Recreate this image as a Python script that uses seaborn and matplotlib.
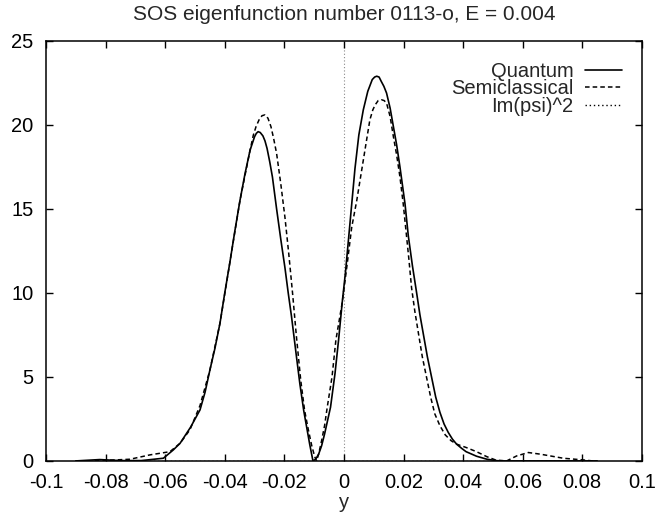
import matplotlib
matplotlib.use("Agg")
import matplotlib.pyplot as plt
import seaborn as sns
import pandas as pd
import numpy as np

# ---- data ----
title = "SOS eigenfunction number 0113-o, E = 0.004"
x_label = "y"
labels = ["Quantum", "Semiclassical", "Im(psi)^2"]

quantum_x = [-0.090, -0.082, -0.075, -0.068, -0.0606, -0.0573, -0.0550, -0.0515,
             -0.0483, -0.0466, -0.0450, -0.0433, -0.0416, -0.0400, -0.0383, -0.0366,
             -0.0349, -0.0332, -0.0315, -0.0300, -0.0294, -0.0288, -0.0281, -0.0272,
             -0.0265, -0.0258, -0.0249, -0.0240, -0.0226, -0.0212, -0.0198, -0.0187,
             -0.0176, -0.0160, -0.0148, -0.0135, -0.0125, -0.0115, -0.0104, -0.0095,
             -0.0085, -0.0075, -0.0065, -0.0055, -0.0045, -0.0030, -0.0018, -0.0006,
             0.0005, 0.0020, 0.0037, 0.0050, 0.0065, 0.0080, 0.0095, 0.0103,
             0.0110, 0.0118, 0.0125, 0.0134, 0.0143, 0.0155, 0.0166, 0.0177,
             0.0188, 0.0205, 0.0216, 0.0230, 0.0244, 0.0255, 0.0266, 0.0280,
             0.0294, 0.0308, 0.0322, 0.0336, 0.0350, 0.0364, 0.0378, 0.0395,
             0.0410, 0.0445, 0.0480, 0.0520, 0.0600, 0.0700, 0.0850]
quantum_v = [0.0, 0.08, 0.02, 0.02, 0.16, 0.65, 1.05, 2.0,
             3.04, 4.1, 5.4, 6.7, 8.2, 10.0, 11.8, 13.7,
             15.5, 17.1, 18.5, 19.3, 19.5, 19.6, 19.55, 19.35,
             19.05, 18.6, 17.8, 16.9, 15.0, 13.2, 11.5, 10.0,
             8.6, 6.3, 4.6, 3.0, 2.0, 1.0, 0.0, 0.1,
             0.4, 0.9, 1.6, 2.4, 3.2, 5.2, 7.2, 9.4,
             11.2, 14.1, 17.4, 19.4, 20.9, 22.0, 22.7, 22.85,
             22.9, 22.85, 22.6, 22.3, 21.9, 21.0, 19.9, 18.8,
             17.5, 15.3, 13.4, 11.6, 10.0, 8.7, 7.6, 6.2,
             5.0, 3.8, 2.9, 2.2, 1.7, 1.3, 1.0, 0.75,
             0.55, 0.28, 0.1, 0.0, 0.0, 0.0, 0.0]

semi_x = [-0.0836, -0.0780, -0.0718, -0.0651, -0.0584, -0.0550, -0.0517, -0.0483,
          -0.0450, -0.0416, -0.0383, -0.0349, -0.0315, -0.0304, -0.0295, -0.0285,
          -0.0275, -0.0265, -0.0255, -0.0245, -0.0236, -0.0226, -0.0212, -0.0198,
          -0.0185, -0.0172, -0.0160, -0.0145, -0.0132, -0.0120, -0.0108, -0.0098,
          -0.0092, -0.0085, -0.0075, -0.0065, -0.0056, -0.0040, -0.0027, -0.0006,
          0.0010, 0.0026, 0.0043, 0.0065, 0.0087, 0.0097, 0.0105, 0.0115,
          0.0126, 0.0135, 0.0143, 0.0155, 0.0166, 0.0177, 0.0188, 0.0199,
          0.0210, 0.0218, 0.0227, 0.0238, 0.0250, 0.0263, 0.0277, 0.0291,
          0.0305, 0.0322, 0.0340, 0.0360, 0.0378, 0.0410, 0.0445, 0.0480,
          0.0510, 0.0546, 0.0580, 0.0619, 0.0660, 0.0736, 0.0803, 0.0835]
semi_v = [0.0, 0.05, 0.1, 0.36, 0.55, 1.05, 1.85, 3.3,
          5.4, 8.2, 11.8, 15.5, 18.5, 19.4, 19.9, 20.3,
          20.55, 20.6, 20.4, 19.9, 19.2, 18.3, 16.5, 14.5,
          12.3, 9.9, 7.5, 4.8, 3.0, 1.9, 0.9, 0.25,
          0.0, 0.4, 1.2, 2.1, 3.2, 5.0, 7.2, 9.4,
          11.6, 13.9, 15.5, 17.9, 20.3, 20.9, 21.2, 21.45,
          21.5, 21.45, 21.3, 20.5, 19.3, 18.2, 16.9, 15.3,
          13.4, 12.0, 10.3, 8.9, 7.6, 6.2, 5.0, 3.8,
          2.8, 2.1, 1.55, 1.2, 1.0, 0.8, 0.55, 0.25,
          0.05, 0.0, 0.3, 0.5, 0.4, 0.16, 0.06, 0.0]

im_x = [-0.085, -0.06, -0.04, -0.02, 0.0, 0.02, 0.04, 0.06, 0.085]
im_v = [0.0, 0.0, 0.0, 0.0, 0.0, 0.0, 0.0, 0.0, 0.0]

x_ticks = [-0.1, -0.08, -0.06, -0.04, -0.02, 0.0, 0.02, 0.04, 0.06, 0.08, 0.1]
x_tick_labels = ["-0.1", "-0.08", "-0.06", "-0.04", "-0.02", "0",
                 "0.02", "0.04", "0.06", "0.08", "0.1"]
y_ticks = [0, 5, 10, 15, 20, 25]

# ---- build a long table ----
df = pd.concat([
    pd.DataFrame({"y": quantum_x, "value": quantum_v, "series": labels[0]}),
    pd.DataFrame({"y": semi_x, "value": semi_v, "series": labels[1]}),
    pd.DataFrame({"y": im_x, "value": im_v, "series": labels[2]}),
], ignore_index=True)

sns.set_style("ticks")
plt.rcParams["font.family"] = ["Liberation Sans", "DejaVu Sans"]

fig = plt.figure(figsize=(6.57, 5.15), dpi=100)
ax = fig.add_axes([0.070, 0.105, 0.907, 0.8155])

styles = {
    labels[0]: dict(linestyle="-", linewidth=1.2),
    labels[1]: dict(linestyle=(0, (3, 2)), linewidth=1.1),
    labels[2]: dict(linestyle=(0, (1, 2)), linewidth=1.0),
}
for name in labels:
    sub = df[df["series"] == name]
    sns.lineplot(data=sub, x="y", y="value", ax=ax, color="black",
                 label=name, sort=False, estimator=None, **styles[name])

# zero axis (dotted grey)
ax.axvline(0, color="#888888", linestyle=(0, (1, 2)), linewidth=0.8, zorder=0)

ax.set_xlim(-0.1, 0.1)
ax.set_ylim(0, 25)
ax.set_xticks(x_ticks)
ax.set_xticklabels(x_tick_labels)
ax.set_yticks(y_ticks)
ax.tick_params(direction="in", length=5, width=1.0, top=True, right=True,
               labelsize=14.5, colors="black")
ax.tick_params(axis="x", pad=8.5)
ax.tick_params(axis="y", pad=9)
for s in ax.spines.values():
    s.set_visible(True)
    s.set_linewidth(1.1)
    s.set_color("black")

ax.set_xlabel(x_label, fontsize=14.5, labelpad=1)
ax.set_ylabel("")
ax.set_title(title, fontsize=15, pad=15)

leg = ax.legend(loc="upper right", bbox_to_anchor=(0.966, 0.950), frameon=False,
                markerfirst=False, fontsize=14.5, handlelength=1.8,
                handletextpad=0.6, labelspacing=-0.08, borderaxespad=0.0,
                borderpad=0.0)

fig.savefig("out.png", dpi=100)
